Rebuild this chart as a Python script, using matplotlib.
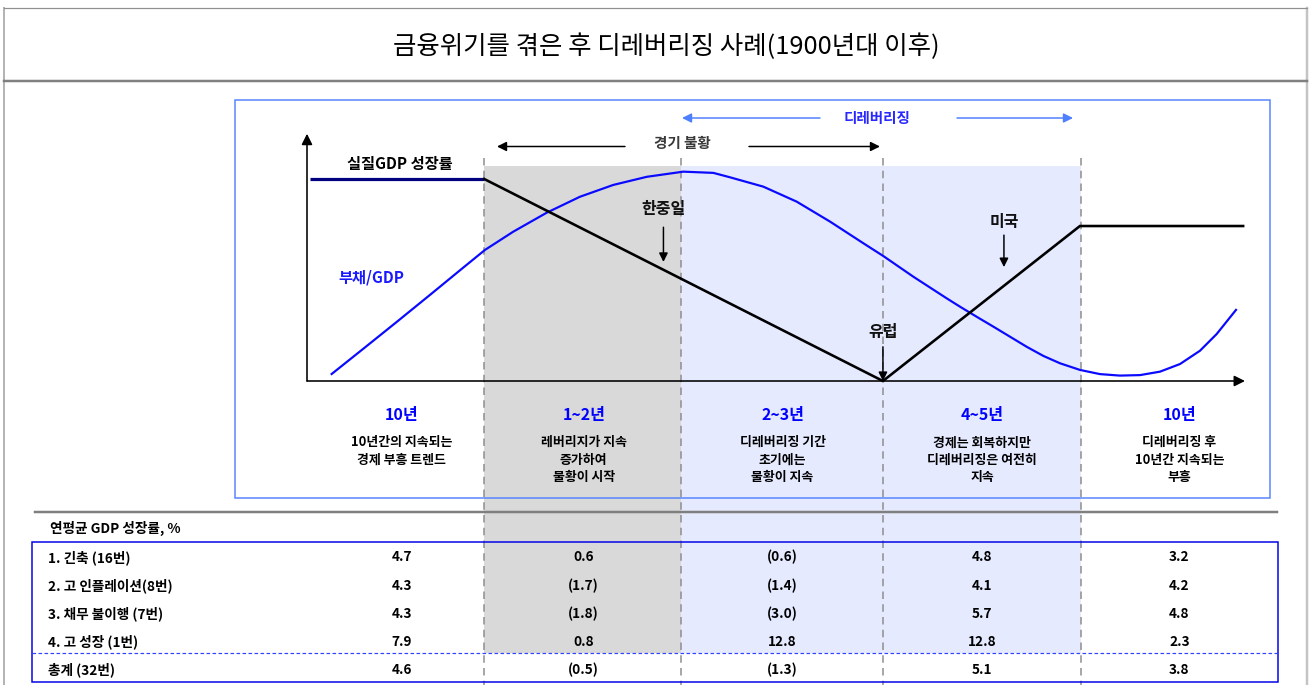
import matplotlib.pyplot as plt
import matplotlib.transforms as mtransforms
from matplotlib.patches import Rectangle

W, H = 1312, 685

# 도식 구간 경계 (도식 x 단위 0~100)
phase_edges = [18.9, 39.9, 61.4, 82.5]
col_centers = [10.1, 29.5, 50.7, 72.0, 93.0]

periods = ['10년', '1~2년', '2~3년', '4~5년', '10년']
descriptions = [
    ['10년간의 지속되는', '경제 부흥 트렌드'],
    ['레버리지가 지속', '증가하여', '불황이 시작'],
    ['디레버리징 기간', '초기에는', '불황이 지속'],
    ['경제는 회복하지만', '디레버리징은 여전히', '지속'],
    ['디레버리징 후', '10년간 지속되는', '부흥'],
]

# 실질 GDP 성장률 (개념도)
gdp_x = [0.3, 18.9, 61.4, 82.4, 99.8]
gdp_y = [82.1, 82.1, 0.0, 63.0, 63.0]

# 부채/GDP (개념도)
debt_x = [2.63, 6.00, 9.56, 13.11, 16.66, 18.98, 21.99, 25.55, 29.10, 32.65,
          36.22, 40.12, 43.32, 45.10, 48.65, 52.21, 55.76, 59.31, 61.44, 64.64,
          68.20, 69.62, 71.40, 73.17, 74.95, 76.73, 78.50, 80.28, 82.41, 84.54,
          86.67, 88.81, 90.94, 93.07, 95.20, 96.98, 99.04]
debt_y = [2.85, 13.1, 24.0, 35.0, 46.1, 53.3, 60.7, 68.4, 74.9, 79.7,
          83.0, 85.1, 84.6, 82.8, 79.0, 72.9, 64.8, 56.0, 50.8, 42.4,
          33.6, 30.2, 26.1, 22.1, 18.0, 13.9, 10.2, 7.2, 4.5, 2.8,
          2.2, 2.4, 3.8, 6.9, 12.3, 19.1, 28.9]

row_labels = ['1. 긴축 (16번)', '2. 고 인플레이션(8번)', '3. 채무 불이행 (7번)',
              '4. 고 성장 (1번)']
growth_rows = [
    [4.7, 0.6, -0.6, 4.8, 3.2],
    [4.3, -1.7, -1.4, 4.1, 4.2],
    [4.3, -1.8, -3.0, 5.7, 4.8],
    [7.9, 0.8, 12.8, 12.8, 2.3],
]
total_label = '총계 (32번)'
total_row = [4.6, -0.5, -1.3, 5.1, 3.8]


def fmt(v):
    return f'({abs(v):.1f})' if v < 0 else f'{v:.1f}'


plt.rcParams['font.family'] = ['Noto Sans CJK KR', 'DejaVu Sans']
PX = 0.72  # 1px in points

fig = plt.figure(figsize=(W / 100, H / 100), dpi=100)
ax = fig.add_axes([0, 0, 1, 1])
ax.set_xlim(0, W)
ax.set_ylim(H, 0)
ax.axis('off')

dax = fig.add_axes([307 / W, (H - 381) / H, 938 / W, 246 / H])
dax.set_xlim(0, 100)
dax.set_ylim(0, 100)
dax.axis('off')

trans = mtransforms.blended_transform_factory(dax.transData, ax.transData)

# outer frame and title
ax.plot([4, 4], [8, H], color='#b4b4b4', lw=2 * PX)
ax.plot([1307, 1307], [8, H], color='#c4c4c4', lw=2.5 * PX)
ax.plot([4, 1307], [8, 8], color='#909090', lw=1.2 * PX)
ax.plot([4, 1307], [80.7, 80.7], color='#808080', lw=2.5 * PX)
ax.text(666, 47, '금융위기를 겪은 후 디레버리징 사례(1900년대 이후)',
        ha='center', va='center', fontsize=18.3)

# shading of phases
ax.add_patch(Rectangle((phase_edges[0], 166), phase_edges[1] - phase_edges[0],
                       653.3 - 166, transform=trans, facecolor='#d9d9d9',
                       edgecolor='none', zorder=0))
ax.add_patch(Rectangle((phase_edges[1], 166), phase_edges[3] - phase_edges[1],
                       653.3 - 166, transform=trans, facecolor='#e6eaff',
                       edgecolor='none', zorder=0))
for e in phase_edges:
    ax.plot([e, e], [158, H], transform=trans, color='#8c8c8c', lw=1.5 * PX,
            linestyle=(0, (5, 3.5)), zorder=1)

# diagram box
ax.add_patch(Rectangle((235, 100), 1270 - 235, 497.7 - 100, facecolor='none',
                       edgecolor='#5583ff', lw=1.5 * PX, zorder=2))

# header arrows
ax.text(682, 143.3, '경기 불황', ha='center', va='center', fontsize=10.5,
        fontweight='bold', color='#3a3a3a')
arr = dict(arrowstyle='-|>', color='black', lw=1.5 * PX, mutation_scale=14,
           shrinkA=0, shrinkB=0)
ax.annotate('', xy=(497, 146.5), xytext=(625, 146.5), arrowprops=arr)
ax.annotate('', xy=(880, 146.5), xytext=(749, 146.5), arrowprops=arr)
ax.text(877, 118, '디레버리징', ha='center', va='center', fontsize=10.5,
        fontweight='bold', color='#2828ff')
arr_b = dict(arrowstyle='-|>', color='#4d7fff', lw=1.5 * PX, mutation_scale=14,
             shrinkA=0, shrinkB=0)
ax.annotate('', xy=(682, 118), xytext=(820, 118), arrowprops=arr_b)
ax.annotate('', xy=(1073, 118), xytext=(957, 118), arrowprops=arr_b)

# axes of the diagram
ax_arr = dict(arrowstyle='-|>', color='black', lw=1.6 * PX, mutation_scale=16,
              shrinkA=0, shrinkB=0)
dax.annotate('', xy=(0, 100.5), xytext=(0, 0), arrowprops=ax_arr,
             annotation_clip=False)
dax.annotate('', xy=(100, 0), xytext=(0, 0), arrowprops=ax_arr,
             annotation_clip=False)

# lines
dax.plot(debt_x, debt_y, color='#0a0aff', lw=2.2 * PX, clip_on=False, zorder=3,
         solid_joinstyle='round')
dax.plot(gdp_x[:2], gdp_y[:2], color='#000080', lw=3.2 * PX, clip_on=False,
         zorder=4, solid_capstyle='butt')
dax.plot(gdp_x[1:], gdp_y[1:], color='black', lw=2.6 * PX, clip_on=False,
         zorder=4, solid_joinstyle='miter')

dax.text(9.9, 88.2, '실질GDP 성장률', ha='center', va='center', fontsize=11,
         fontweight='bold')
dax.text(6.9, 41.9, '부채/GDP', ha='center', va='center', fontsize=11,
         fontweight='bold', color='#1a1aff')

lab_arr = dict(arrowstyle='-|>', color='black', lw=1.5 * PX, mutation_scale=13,
               shrinkA=0, shrinkB=0)
for name, tx, ty, a0, a1 in [('한중일', 38.0, 69.8, 62.5, 48.4),
                             ('미국', 74.3, 64.8, 59.3, 46.3),
                             ('유럽', 61.4, 20.0, 13.9, 0.0)]:
    dax.text(tx, ty, name, ha='center', va='center', fontsize=11.5,
             fontweight='bold', color='#111111')
    dax.annotate('', xy=(tx, a1), xytext=(tx, a0), arrowprops=lab_arr,
                 annotation_clip=False)

# period labels
for cx, p, lines in zip(col_centers, periods, descriptions):
    ax.text(cx, 415, p, transform=trans, ha='center', va='center',
            fontsize=11.5, fontweight='bold', color='#0000ff')
    for i, line in enumerate(lines):
        ax.text(cx, 442.3 + i * 17.2, line, transform=trans, ha='center',
                va='center', fontsize=9.3, fontweight='bold')

# table
ax.plot([35, 1277], [511.7, 511.7], color='#7f7f7f', lw=2.5 * PX, zorder=2)
ax.text(50, 528, '연평균 GDP 성장률, %', ha='left', va='center', fontsize=9.8,
        fontweight='bold')
ax.add_patch(Rectangle((32.3, 541.7), 1277.7 - 32.3, 681.7 - 541.7,
                       facecolor='none', edgecolor='#0000e6', lw=1.5 * PX,
                       zorder=2))
ax.plot([32.3, 1277.7], [653.3, 653.3], color='#3344ff', lw=1.2 * PX,
        linestyle=(0, (3, 2)), zorder=2)

row_y = [557.3, 585.5, 613.7, 641.8]
for y, label, vals in zip(row_y, row_labels, growth_rows):
    ax.text(48, y, label, ha='left', va='center', fontsize=9.8,
            fontweight='bold')
    for cx, v in zip(col_centers, vals):
        ax.text(cx, y, fmt(v), transform=trans, ha='center', va='center',
                fontsize=9.8, fontweight='bold')
ax.text(48, 669.5, total_label, ha='left', va='center', fontsize=9.8,
        fontweight='bold')
for cx, v in zip(col_centers, total_row):
    ax.text(cx, 669.5, fmt(v), transform=trans, ha='center', va='center',
            fontsize=9.8, fontweight='bold')

fig.savefig('out.png', dpi=100)
